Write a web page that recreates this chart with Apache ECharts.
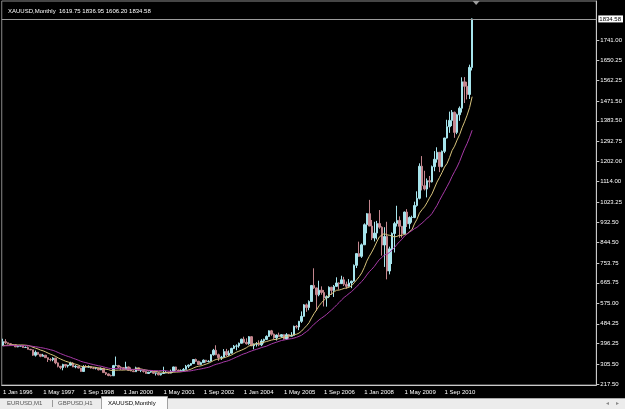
<!DOCTYPE html>
<html>
<head>
<meta charset="utf-8">
<script src="https://cdn.jsdelivr.net/npm/echarts@6/dist/echarts.min.js"></script>
<style>html,body{margin:0;padding:0;background:#000;}#chart{width:625px;height:409px;}</style>
</head>
<body>
<div id="chart"></div>
<script>
// XAUUSD monthly, Jan 1996 .. Aug 2011
const startYear = 1996;
const totalSlots = 237; // visible monthly slots on the x axis (includes empty future space)
const monthNames = ['Jan','Feb','Mar','Apr','May','Jun','Jul','Aug','Sep','Oct','Nov','Dec'];

const closePrices = [
  405,400,396,392,391,382,385,387,379,379,371,369,
  345,358,349,340,345,334,326,325,332,311,296,290,
  304,297,301,310,293,296,288,273,294,292,294,288,
  287,287,280,286,268,262,255,254,299,299,292,290,
  283,293,278,275,272,289,277,277,273,264,270,273,
  265,267,258,264,266,270,266,273,293,279,275,277,
  282,296,301,308,326,318,304,312,323,317,318,347,
  367,347,334,336,361,346,354,375,385,386,398,416,
  402,396,427,387,394,395,391,408,415,428,453,438,
  422,434,428,436,417,436,429,433,473,470,495,517,
  568,556,583,654,643,613,633,623,599,604,646,632,
  650,665,662,679,659,650,665,673,743,795,783,834,
  923,972,917,864,886,928,912,833,871,718,816,884,
  928,942,916,883,979,927,955,955,1008,1040,1182,1096,
  1081,1118,1113,1180,1213,1244,1181,1248,1307,1357,1385,1421,
  1332,1410,1439,1556,1536,1500,1620,1834.58
];
const openPrices = [
  387,405,400,396,392,391,382,385,387,379,379,371,
  369,345,358,349,340,345,334,326,325,332,311,296,
  290,304,297,301,310,293,296,288,273,294,292,294,
  288,287,287,280,286,268,262,255,254,299,299,292,
  290,283,293,278,275,272,289,277,277,273,264,270,
  273,265,267,258,264,266,270,266,273,293,279,275,
  277,282,296,301,308,326,318,304,312,323,317,318,
  347,367,347,334,336,361,346,354,375,385,386,398,
  416,402,396,427,387,394,395,391,408,415,428,453,
  438,422,434,428,436,417,436,429,433,473,470,495,
  517,568,556,583,654,643,613,633,623,599,604,646,
  632,650,665,662,679,659,650,665,673,743,795,783,
  834,923,972,917,864,886,928,912,833,871,718,816,
  884,928,942,916,883,979,927,955,955,1008,1040,1182,
  1096,1081,1118,1113,1180,1213,1244,1181,1248,1307,1357,1385,
  1421,1332,1410,1439,1556,1536,1500,1619.75
];
const highPrices = [
  418,416,401,398,394,392,389,390,388,384,384,373,
  369,366,358,349,351,346,334,332,336,333,313,297,
  307,305,302,316,314,301,298,289,301,302,300,297,
  293,292,290,291,290,270,264,259,302,339,302,296,
  292,316,295,291,278,294,290,280,278,275,271,275,
  274,268,270,265,294,275,272,281,294,294,281,282,
  288,302,304,310,327,330,320,316,326,324,323,350,
  373,389,352,342,372,373,366,378,390,393,401,418,
  427,420,430,429,397,403,411,416,418,433,455,457,
  441,437,445,438,437,443,439,447,476,479,497,539,
  571,574,588,655,730,644,675,650,634,610,650,648,
  656,690,668,697,692,671,682,675,747,795,848,840,
  929,975,1033,944,936,940,988,916,912,936,826,889,
  936,1007,960,917,981,992,960,963,1025,1071,1195,1227,
  1162,1128,1139,1185,1249,1266,1245,1252,1308,1388,1424,1431,
  1424,1415,1447,1576,1577,1556,1632,1836.95
];
const lowPrices = [
  386,395,393,389,389,381,380,384,378,377,371,367,
  342,339,346,336,339,333,315,318,318,305,291,283,
  278,289,290,299,292,287,287,272,273,289,291,286,
  283,282,278,279,267,257,252,251,253,296,287,280,
  281,283,277,274,271,272,276,270,268,263,263,267,
  262,255,256,255,263,265,263,265,270,275,271,272,
  277,282,288,298,306,315,303,302,311,312,313,317,
  343,345,320,324,335,341,342,353,372,367,378,397,
  398,392,391,385,371,383,385,385,397,412,426,431,
  417,410,426,422,414,413,418,428,432,463,456,488,
  516,537,544,582,639,542,606,613,561,560,598,612,
  603,648,636,661,651,640,648,642,671,731,781,776,
  833,885,917,855,849,858,905,786,736,681,703,749,
  800,915,865,866,880,913,905,932,952,1003,1035,1075,
  1075,1044,1088,1110,1160,1198,1156,1177,1240,1305,1330,1360,
  1308,1324,1383,1420,1462,1478,1480,1606.20
];
// closes before Jan 1996 (May 1994 .. Dec 1995), used only so the averages start at the left edge
const priorCloses = [387,385,384,385,394,389,383,383, 375,376,391,389,385,387,384,383,384,383,387,387];

const fastPeriod = 11;
const slowPeriod = 21;
const yTickValues = [217.50,305.50,396.25,484.25,575.00,665.75,753.75,844.50,932.50,1023.25,1114.00,1202.00,1292.75,1383.50,1471.50,1562.25,1650.25,1741.00];
const titleText = 'XAUUSD,Monthly  1619.75 1836.95 1606.20 1834.58';
const tabNames = ['EURUSD,M1','GBPUSD,H1','XAUUSD,Monthly'];

// ---- build ----
const categories = [];
for (let i = 0; i < totalSlots; i++) {
  const y = startYear + Math.floor(i / 12);
  categories.push('1 ' + monthNames[i % 12] + ' ' + y);
}
const n = closePrices.length;
const candleData = [];
for (let i = 0; i < n; i++) candleData.push([openPrices[i], closePrices[i], lowPrices[i], highPrices[i]]);
const allCloses = priorCloses.concat(closePrices);
function sma(p) {
  const out = [];
  for (let i = 0; i < n; i++) {
    const j = i + priorCloses.length;
    let s = 0;
    for (let k = j - p + 1; k <= j; k++) s += allCloses[k];
    out.push(+(s / p).toFixed(2));
  }
  return out;
}
const maFast = sma(fastPeriod);
const maSlow = sma(slowPeriod);
const lastClose = closePrices[n - 1];

const FONT = 'Liberation Sans';
const chart = echarts.init(document.getElementById('chart'), null, {renderer: 'canvas'});
const showIdx = (idx) => idx % 16 === 0 && idx < n;
const option = {
  backgroundColor: '#000',
  animation: false,
  title: {
    text: titleText, left: 3, top: 3,
    textStyle: {color: '#ffffff', fontSize: 6, fontWeight: 'normal', fontFamily: FONT}
  },
  grid: {left: 0, right: 27, top: 1, bottom: 24, show: true, borderColor: '#8a8a8a', borderWidth: 1, backgroundColor: 'transparent'},
  xAxis: {
    type: 'category', data: categories, boundaryGap: true,
    axisLine: {lineStyle: {color: '#c8c8c8', width: 1}},
    axisTick: {alignWithLabel: true, interval: (idx) => showIdx(idx), length: 3, lineStyle: {color: '#c8c8c8'}},
    axisLabel: {interval: (idx) => showIdx(idx), align: 'left', color: '#ffffff', fontSize: 6, margin: 4, fontFamily: FONT,
      formatter: (v, idx) => (idx < n ? v : '')},
    splitLine: {show: false}
  },
  yAxis: {
    type: 'value', position: 'right', min: 213, max: 1914, scale: true,
    axisLine: {show: true, lineStyle: {color: '#c8c8c8', width: 1}},
    axisTick: {show: true, length: 3, customValues: yTickValues, lineStyle: {color: '#c8c8c8'}},
    axisLabel: {customValues: yTickValues, formatter: (v) => v.toFixed(2), color: '#ffffff', fontSize: 6, margin: 4, fontFamily: FONT},
    splitLine: {show: false}
  },
  series: [
    {
      type: 'candlestick', data: candleData, barWidth: 2,
      itemStyle: {color: '#a6e4ec', color0: '#c4868e', borderColor: '#a6e4ec', borderColor0: '#c4868e', borderWidth: 1},
      markLine: {
        silent: true, symbol: ['none', 'none'], animation: false,
        lineStyle: {color: '#9c9c9c', type: 'solid', width: 1},
        label: {show: true, position: 'end', formatter: lastClose.toFixed(2), backgroundColor: '#ffffff', color: '#000000',
          fontSize: 6, fontFamily: FONT, padding: [1, 2, 0, 1], distance: 2},
        data: [{yAxis: lastClose}]
      },
      markPoint: {
        silent: true, animation: false,
        data: [{coord: [n - 1, 1914], symbol: 'triangle', symbolRotate: 180, symbolSize: [7, 4], symbolOffset: [4, 2],
          itemStyle: {color: '#9c9c9c'}, label: {show: false}}]
      }
    },
    {type: 'line', data: maFast, showSymbol: false, symbol: 'none', lineStyle: {color: '#d8c47c', width: 1}, z: 3},
    {type: 'line', data: maSlow, showSymbol: false, symbol: 'none', lineStyle: {color: '#a83aa8', width: 1}, z: 3}
  ],
  graphic: [
    {type: 'rect', left: 0, top: 398, shape: {width: 625, height: 11}, style: {fill: '#ececec'}, z: 10},
    {type: 'line', shape: {x1: 0, y1: 398.5, x2: 625, y2: 398.5}, style: {stroke: '#a8a8a8', lineWidth: 1}, z: 11},
    {type: 'rect', shape: {x: 101.5, y: 396.5, width: 66, height: 13}, style: {fill: '#fbfbfb', stroke: '#a0a0a0', lineWidth: 1}, z: 12},
    {type: 'line', shape: {x1: 52.5, y1: 400, x2: 52.5, y2: 407}, style: {stroke: '#9a9a9a', lineWidth: 1}, z: 11},
    {type: 'text', x: 7, y: 403.5, style: {text: tabNames[0], fill: '#555555', font: '6px "Liberation Sans"', verticalAlign: 'middle'}, z: 13},
    {type: 'text', x: 58, y: 403.5, style: {text: tabNames[1], fill: '#555555', font: '6px "Liberation Sans"', verticalAlign: 'middle'}, z: 13},
    {type: 'text', x: 108, y: 403.5, style: {text: tabNames[2], fill: '#000000', font: '6px "Liberation Sans"', verticalAlign: 'middle'}, z: 13},
    {type: 'text', x: 606, y: 403.5, style: {text: '\u25C2', fill: '#8a8a8a', font: '6px "DejaVu Sans"', verticalAlign: 'middle'}, z: 13},
    {type: 'text', x: 616, y: 403.5, style: {text: '\u25B8', fill: '#8a8a8a', font: '6px "DejaVu Sans"', verticalAlign: 'middle'}, z: 13}
  ]
};
chart.setOption(option);
</script>
</body>
</html>
